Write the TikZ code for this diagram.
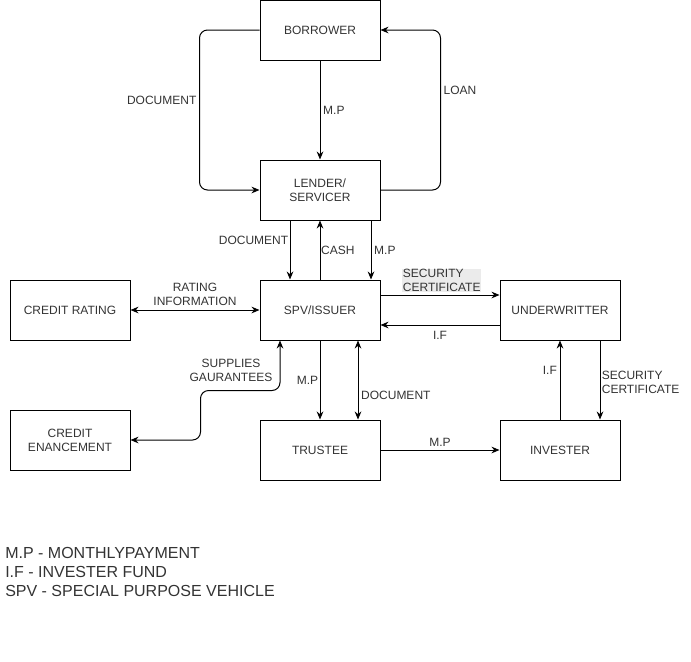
\documentclass[tikz,border=0pt]{standalone}
\usepackage{fontspec}
\setmainfont{Liberation Sans}
\usepackage{tikz}
\usetikzlibrary{positioning}
\usetikzlibrary{calc,arrows.meta}

\definecolor{inkgray}{HTML}{333333}
\definecolor{tagfill}{HTML}{EBEBEB}

\tikzset{
	box/.style={draw, line width=0.75pt, minimum width=90pt, minimum height=45pt,
		inner sep=0pt, align=center, font=\fontsize{9}{10.5}\selectfont, text=inkgray},
	tag/.style={font=\fontsize{9}{10.5}\selectfont, text=inkgray, align=center, inner sep=2pt},
	flow/.style={line width=0.75pt, -{Stealth[length=6pt,width=5pt]}},
	flowboth/.style={line width=0.75pt, {Stealth[length=6pt,width=5pt]}-{Stealth[length=6pt,width=5pt]}}
}

\begin{document}
\begin{tikzpicture}[x=0.75pt,y=-0.75pt]

	\useasboundingbox (0,0) rectangle (691,661);

	%Boxes
	\node[box] (Borrower) at (320,30) {BORROWER};
	\node[box] (Lender) at (320,190) {LENDER/\\SERVICER};
	\node[box] (Spv) at (320,310) {SPV/ISSUER};
	\node[box] (Rating) at (70,310) {CREDIT RATING};
	\node[box] (Under) at (560,310) {UNDERWRITTER};
	\node[box] (Enhance) at (70,440) {CREDIT\\ENANCEMENT};
	\node[box] (Trustee) at (320,450) {TRUSTEE};
	\node[box] (Invester) at (560,450) {INVESTER};

	%Borrower and lender
	\draw[flow, rounded corners=6pt] (Borrower.west) -- ++(-60,0) |- node[tag, pos=0.22, left] {DOCUMENT} (Lender.west);
	\draw[flow, rounded corners=6pt] (Lender.east) -- ++(60,0) |- node[tag, pos=0.31, right] {LOAN} (Borrower.east);
	\draw[flow] (Borrower) -- node[tag, right] {M.P} (Lender);

	%Lender and SPV
	\draw[flow] ($(Lender.south)+(-30,0)$) -- node[tag, pos=0.33, left, inner sep=1pt] {DOCUMENT} ($(Spv.north)+(-30,0)$);
	\draw[flow] (Spv) -- node[tag, right, inner sep=0.5pt] {CASH} (Lender);
	\draw[flow] ($(Lender.south)+(51,0)$) -- node[tag, right] {M.P} ($(Spv.north)+(51,0)$);

	%SPV and underwritter
	\draw[flow] ($(Spv.east)+(0,-15)$) -- ($(Under.west)+(0,-15)$);
	\node[tag, fill=tagfill, align=left, anchor=west, inner sep=0.5pt] (SecTag) at (402,280.5) {SECURITY\\CERTIFICATE};
	\draw[flow] ($(Under.west)+(0,15)$) -- node[tag, below=2pt] {I.F} ($(Spv.east)+(0,15)$);

	%Rating and enhancement
	\draw[flowboth] (Rating) -- node[tag, above=1pt] {RATING\\INFORMATION} (Spv);
	\draw[flowboth, rounded corners=6pt] (Enhance.east) -- ++(70,0) |- ($(Spv.south)+(-40,50)$) -- ($(Spv.south)+(-40,0)$);
	\node[tag] (SupTag) at (231,370) {SUPPLIES\\GAURANTEES};

	%SPV and trustee
	\draw[flow] (Spv) -- node[tag, left, inner sep=1pt] {M.P} (Trustee);
	\draw[flowboth] ($(Spv.south)+(38,0)$) -- node[tag, pos=0.69, right] {DOCUMENT} ($(Trustee.north)+(38,0)$);

	%Trustee, invester and underwritter
	\draw[flow] (Trustee) -- node[tag, above] {M.P} (Invester);
	\draw[flow] (Invester) -- node[tag, pos=0.62, left] {I.F} (Under);
	\draw[flow] ($(Under.south)+(40,0)$) -- node[tag, pos=0.53, right, align=left, inner sep=1pt] {SECURITY\\CERTIFICATE} ($(Invester.north)+(40,0)$);

	%Legend
	\node[anchor=west, align=left, inner sep=0pt, text=inkgray, font=\fontsize{12}{14.25}\selectfont] (Legend) at (5,572)
		{M.P - MONTHLYPAYMENT\\I.F - INVESTER FUND\\SPV - SPECIAL PURPOSE VEHICLE};

\end{tikzpicture}
\end{document}
